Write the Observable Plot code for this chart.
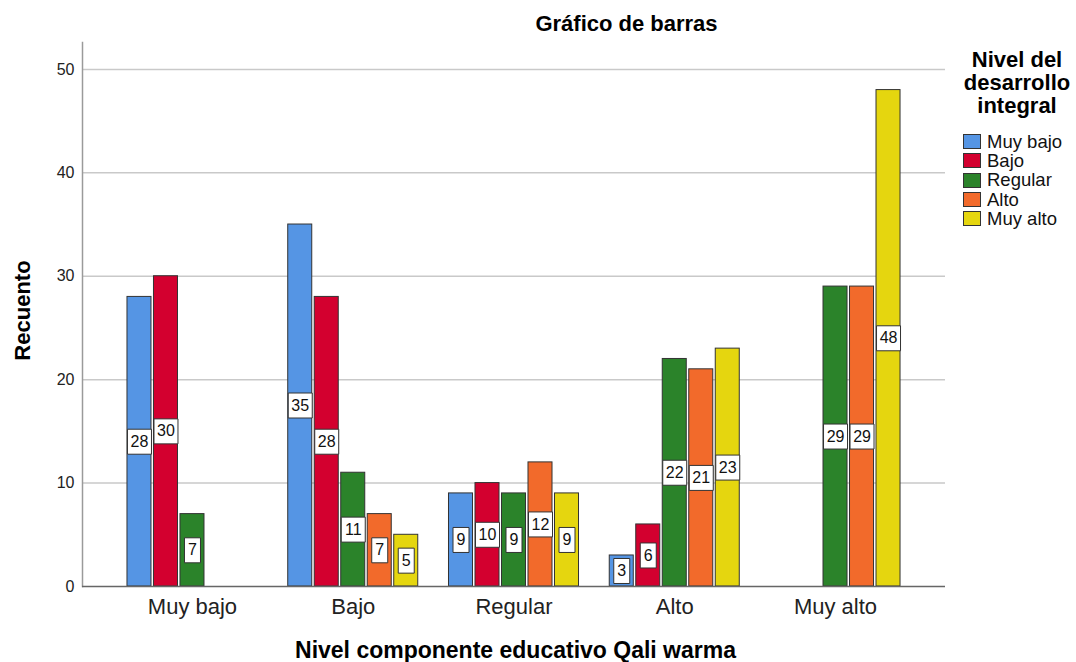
<!DOCTYPE html>
<html>
<head>
<meta charset="utf-8">
<script src="https://cdn.jsdelivr.net/npm/d3@7"></script>
<script src="https://cdn.jsdelivr.net/npm/@observablehq/plot@0.6"></script>
<style>
  html, body { margin: 0; padding: 0; background: #fff; }
  #wrap { position: relative; width: 1076px; height: 662px; font-family: "Liberation Sans", Arial, sans-serif; }
  #legend { position: absolute; left: 957px; top: 48px; }
  #legend .title { position: absolute; left: 0; top: 0; width: 120px; text-align: center; font-weight: bold; font-size: 22px; line-height: 23px; white-space: nowrap; color: #000; }
  #legend .items { position: absolute; left: 6px; top: 84px; }
  #legend .row { display: flex; align-items: center; height: 19.3px; white-space: nowrap; }
  #legend .sw { width: 18px; height: 15px; box-sizing: border-box; border: 1px solid #333; margin-right: 6px; }
  #legend .lab { font-size: 18.5px; color: #111; }
</style>
</head>
<body>
<div id="wrap"></div>
<script>
// ---- data ----
const groups = ["Muy bajo", "Bajo", "Regular", "Alto", "Muy alto"];
const seriesNames = ["Muy bajo", "Bajo", "Regular", "Alto", "Muy alto"];
const serieMuyBajo = [28, 35, 9, 3, 0];
const serieBajo = [30, 28, 10, 6, 0];
const serieRegular = [7, 11, 9, 22, 29];
const serieAlto = [0, 7, 12, 21, 29];
const serieMuyAlto = [0, 5, 9, 23, 48];
const seriesColors = ["#5595e4", "#d3002f", "#2b832a", "#f26a2b", "#e5d60f"];
const yTicks = [0, 10, 20, 30, 40, 50];
const titleText = "Gráfico de barras";
const xLabel = "Nivel componente educativo Qali warma";
const yLabel = "Recuento";
const legendTitle = ["Nivel del", "desarrollo", "integral"];

const seriesValues = [serieMuyBajo, serieBajo, serieRegular, serieAlto, serieMuyAlto];

// long table built from the arrays
const rows = [];
seriesValues.forEach((vals, k) => {
  vals.forEach((v, i) => {
    if (v > 0) rows.push({group: groups[i], serie: seriesNames[k], k, value: v, mid: v / 2});
  });
});

const step = 26.5;      // slot width of one bar inside a group band (px)
const gap = 1.25;       // inset on each side of a bar
const n = seriesNames.length;

function boxSymbol(w, h) {
  return { draw(ctx) { ctx.rect(-w / 2, -h / 2, w, h); } };
}
const box1 = boxSymbol(16, 25);
const box2 = boxSymbol(24, 25);

const marks = [
  Plot.gridY({ticks: yTicks.filter(t => t > 0), stroke: "#c9c9c9", strokeOpacity: 1, strokeWidth: 1.5}),
  Plot.frame({anchor: "left", stroke: "#9a9a9a", strokeWidth: 1.5})
];

seriesNames.forEach((s, k) => {
  const data = rows.filter(d => d.k === k);
  marks.push(Plot.barY(data, {
    x: "group", y: "value",
    fill: seriesColors[k], stroke: "#333", strokeWidth: 1,
    insetLeft: k * step + gap, insetRight: (n - 1 - k) * step + gap
  }));
});

seriesNames.forEach((s, k) => {
  const data = rows.filter(d => d.k === k);
  const dx = (k - (n - 1) / 2) * step;
  marks.push(Plot.dot(data.filter(d => d.value < 10), {x: "group", y: "mid", dx, symbol: box1, fill: "white", stroke: "#333", strokeWidth: 1}));
  marks.push(Plot.dot(data.filter(d => d.value >= 10), {x: "group", y: "mid", dx, symbol: box2, fill: "white", stroke: "#333", strokeWidth: 1}));
  marks.push(Plot.text(data, {x: "group", y: "mid", dx, text: d => String(d.value), fontSize: 16, fill: "#111"}));
});

marks.push(
  Plot.ruleY([0], {stroke: "#666", strokeWidth: 1.5}),
  Plot.axisY({ticks: yTicks, tickSize: 0, tickPadding: 8, fontSize: 16, label: null, fill: "#222"}),
  Plot.axisX({tickSize: 0, tickPadding: 12, fontSize: 22, label: null, fill: "#222"}),
  Plot.text([titleText], {frameAnchor: "top", lineAnchor: "middle", textAnchor: "middle", dx: 112.5, dy: -18.5, fontSize: 22, fontWeight: "bold", fill: "#000"}),
  Plot.text([yLabel], {frameAnchor: "left", lineAnchor: "middle", textAnchor: "middle", dx: -60, dy: -4, rotate: -90, fontSize: 22, fontWeight: "bold", fill: "#000"}),
  Plot.text([xLabel], {frameAnchor: "bottom", lineAnchor: "middle", textAnchor: "middle", dx: 1.5, dy: 64, fontSize: 23, fontWeight: "bold", fill: "#000"})
);

const chart = Plot.plot({
  width: 1076,
  height: 662,
  marginLeft: 82,
  marginRight: 131,
  marginTop: 42,
  marginBottom: 76,
  style: {fontFamily: '"Liberation Sans", Arial, sans-serif', background: "white"},
  x: {domain: groups, paddingInner: 0.1757, paddingOuter: 0.272, round: false, axis: null},
  y: {domain: [0, 52.6], axis: null},
  marks
});

const wrap = document.getElementById("wrap");
wrap.appendChild(chart);

// legend (HTML) built from the arrays
const legend = document.createElement("div");
legend.id = "legend";
const lt = document.createElement("div");
lt.className = "title";
lt.innerHTML = legendTitle.join("<br>");
legend.appendChild(lt);
const items = document.createElement("div");
items.className = "items";
seriesNames.forEach((s, k) => {
  const r = document.createElement("div");
  r.className = "row";
  const sw = document.createElement("div");
  sw.className = "sw";
  sw.style.background = seriesColors[k];
  const lab = document.createElement("span");
  lab.className = "lab";
  lab.textContent = s;
  r.appendChild(sw);
  r.appendChild(lab);
  items.appendChild(r);
});
legend.appendChild(items);
wrap.appendChild(legend);
</script>
</body>
</html>
